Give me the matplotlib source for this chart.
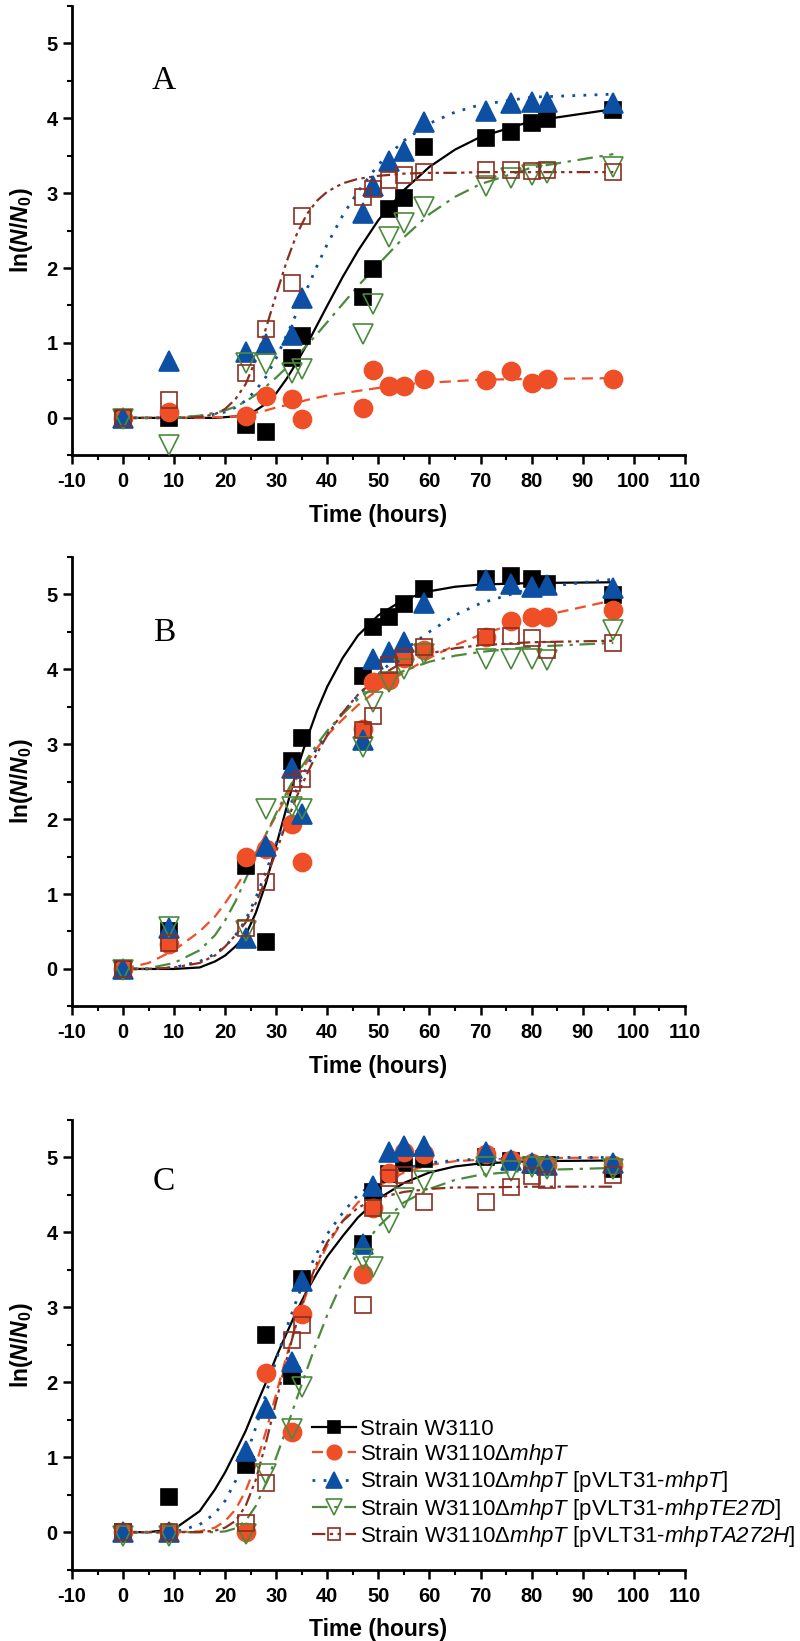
import matplotlib
matplotlib.use('Agg')
import matplotlib.pyplot as plt
from matplotlib.lines import Line2D
from matplotlib.ticker import MultipleLocator

plt.rcParams['font.family'] = ['Liberation Sans', 'DejaVu Sans']
plt.rcParams['axes.unicode_minus'] = False
plt.rcParams['mathtext.fontset'] = 'custom'
# digits inside \mathit fall back to 'rm', so keep 'rm' italic for the gene names
plt.rcParams['mathtext.rm'] = 'Liberation Sans:italic'
plt.rcParams['mathtext.it'] = 'Liberation Sans:italic'
plt.rcParams['mathtext.bf'] = 'Liberation Sans:bold'
plt.rcParams['mathtext.bfit'] = 'Liberation Sans:bold:italic'

# sampling times (hours)
time = [0, 9, 24, 28, 33, 35, 47, 49, 52, 55, 59, 71, 76, 80, 83, 96]

# panel A, measured ln(N/N0)
a_wt = [0, 0.0, -0.1, -0.19, 0.8, 1.09, 1.61, 1.99, 2.79, 2.94, 3.62, 3.73, 3.82, 3.93, 3.99, 4.11]
a_del = [0, 0.08, 0.02, 0.29, 0.25, -0.01, 0.13, 0.64, 0.42, 0.43, 0.52, 0.51, 0.63, 0.47, 0.52, 0.52]
a_comp = [0, 0.76, 0.88, 0.98, 1.11, 1.6, 2.74, 3.1, 3.43, 3.56, 3.95, 4.1, 4.2, 4.22, 4.22, 4.2]
a_e27d = [-0.02, -0.36, 0.73, 0.72, 0.6, 0.65, 1.12, 1.52, 2.41, 2.6, 2.82, 3.1, 3.2, 3.24, 3.27, 3.35]
a_a272h = [0, 0.24, 0.6, 1.19, 1.8, 2.7, 2.95, 3.05, 3.17, 3.24, 3.28, 3.31, 3.31, 3.3, 3.31, 3.28]

# panel B
b_wt = [0, 0.5, 1.38, 0.36, 2.77, 3.08, 3.91, 4.56, 4.7, 4.87, 5.07, 5.21, 5.24, 5.21, 5.14, 4.99]
b_del = [0, 0.33, 1.49, 1.6, 1.94, 1.43, 3.2, 3.83, 3.85, 4.15, 4.25, 4.43, 4.64, 4.7, 4.7, 4.79]
b_comp = [0, 0.54, 0.41, 1.64, 2.68, 2.07, 3.05, 4.13, 4.23, 4.36, 4.88, 5.19, 5.14, 5.1, 5.12, 5.08]
b_e27d = [-0.02, 0.56, 0.5, 2.14, 2.16, 2.14, 2.96, 3.56, 3.83, 4.0, 4.2, 4.14, 4.14, 4.14, 4.12, 4.52]
b_a272h = [0, 0.35, 0.54, 1.16, 2.48, 2.54, 3.19, 3.37, 4.05, 4.16, 4.3, 4.43, 4.44, 4.41, 4.25, 4.35]

# panel C
c_wt = [0, 0.47, 0.89, 2.63, 2.08, 3.38, 3.85, 4.54, 4.78, 4.93, 4.98, 5.0, 4.95, 4.9, 4.9, 4.85]
c_del = [0, 0, 0, 2.13, 1.33, 2.91, 3.44, 4.32, 4.79, 5.07, 5.04, 5.04, 4.97, 4.93, 4.9, 4.9]
c_comp = [0, 0, 1.08, 1.66, 2.27, 3.35, 3.85, 4.62, 5.07, 5.15, 5.15, 5.07, 4.96, 4.93, 4.9, 4.93]
c_e27d = [-0.05, -0.05, -0.03, 0.78, 1.38, 1.94, 3.65, 3.54, 4.12, 4.46, 4.68, 4.87, 4.82, 4.87, 4.85, 4.85]
c_a272h = [0, 0, 0.12, 0.65, 2.56, 2.77, 3.03, 4.32, 4.73, 4.76, 4.4, 4.41, 4.61, 4.75, 4.7, 4.77]

# fitted growth curves at these times
fit_time = [0, 5, 10, 15, 18, 20, 22, 24, 26, 28, 30, 32, 34, 36, 38, 40, 43, 46, 50, 55, 60, 65, 70, 80, 96]

fa_wt = [0, 0, 0, 0, 0, 0.01, 0.02, 0.05, 0.1, 0.19, 0.33, 0.52, 0.74, 0.98, 1.24, 1.5, 1.88, 2.23, 2.64, 3.04, 3.35, 3.58, 3.75, 3.96, 4.12]
fa_del = [0, 0, 0, 0, 0.01, 0.01, 0.02, 0.04, 0.07, 0.1, 0.14, 0.17, 0.2, 0.24, 0.27, 0.3, 0.33, 0.36, 0.4, 0.45, 0.47, 0.49, 0.51, 0.52, 0.53]
fa_comp = [0, 0, 0, 0.02, 0.05, 0.08, 0.14, 0.23, 0.37, 0.55, 0.8, 1.1, 1.4, 1.72, 2.03, 2.32, 2.7, 3.02, 3.38, 3.7, 3.93, 4.08, 4.18, 4.28, 4.32]
fa_e27d = [0, 0, 0, 0.03, 0.07, 0.1, 0.15, 0.22, 0.31, 0.42, 0.54, 0.67, 0.82, 0.97, 1.12, 1.28, 1.52, 1.76, 2.05, 2.41, 2.72, 2.95, 3.12, 3.34, 3.52]
fa_a272h = [0, 0, 0, 0.01, 0.05, 0.12, 0.25, 0.45, 0.78, 1.2, 1.65, 2.08, 2.45, 2.72, 2.9, 3.02, 3.13, 3.19, 3.23, 3.26, 3.27, 3.27, 3.28, 3.28, 3.28]

fb_wt = [0, 0, 0, 0.02, 0.1, 0.18, 0.3, 0.45, 0.75, 1.15, 1.65, 2.15, 2.65, 3.07, 3.45, 3.77, 4.15, 4.45, 4.72, 4.93, 5.04, 5.1, 5.13, 5.15, 5.16]
fb_del = [0, 0.08, 0.25, 0.5, 0.7, 0.88, 1.08, 1.3, 1.55, 1.8, 2.05, 2.3, 2.54, 2.76, 2.95, 3.12, 3.33, 3.52, 3.73, 3.96, 4.15, 4.32, 4.46, 4.68, 4.92]
fb_comp = [0, 0, 0.02, 0.1, 0.2, 0.3, 0.45, 0.65, 0.95, 1.3, 1.68, 2.05, 2.4, 2.7, 2.95, 3.15, 3.42, 3.65, 3.93, 4.25, 4.5, 4.72, 4.88, 5.08, 5.2]
fb_e27d = [0, 0.01, 0.08, 0.25, 0.45, 0.65, 0.9, 1.2, 1.5, 1.8, 2.08, 2.35, 2.6, 2.8, 3.0, 3.18, 3.4, 3.6, 3.8, 3.98, 4.1, 4.18, 4.23, 4.3, 4.35]
fb_a272h = [0, 0, 0.02, 0.08, 0.18, 0.3, 0.45, 0.62, 0.88, 1.2, 1.57, 1.95, 2.3, 2.6, 2.88, 3.12, 3.42, 3.66, 3.9, 4.1, 4.21, 4.28, 4.32, 4.36, 4.38]

fc_wt = [0, 0, 0.04, 0.28, 0.57, 0.8, 1.07, 1.35, 1.68, 2.0, 2.34, 2.65, 2.95, 3.22, 3.46, 3.68, 3.95, 4.2, 4.45, 4.66, 4.8, 4.88, 4.92, 4.95, 4.96]
fc_del = [0, 0, 0, 0.01, 0.06, 0.15, 0.3, 0.55, 0.9, 1.35, 1.85, 2.35, 2.8, 3.2, 3.55, 3.83, 4.15, 4.4, 4.62, 4.8, 4.9, 4.95, 4.97, 4.99, 5.0]
fc_comp = [0, 0, 0, 0.1, 0.25, 0.42, 0.68, 1.0, 1.4, 1.85, 2.3, 2.72, 3.1, 3.45, 3.73, 3.98, 4.26, 4.5, 4.7, 4.85, 4.93, 4.96, 4.98, 5.0, 5.0]
fc_e27d = [0, 0, 0, 0, 0, 0.01, 0.05, 0.15, 0.35, 0.65, 1.0, 1.38, 1.78, 2.17, 2.55, 2.9, 3.35, 3.72, 4.08, 4.4, 4.58, 4.7, 4.77, 4.83, 4.86]
fc_a272h = [0, 0, 0, 0, 0.02, 0.06, 0.15, 0.35, 0.7, 1.2, 1.75, 2.3, 2.8, 3.25, 3.6, 3.87, 4.15, 4.33, 4.46, 4.54, 4.58, 4.6, 4.6, 4.61, 4.61]

labels = ['Strain W3110',
          'Strain W3110Δ$\\mathit{mhpT}$',
          'Strain W3110Δ$\\mathit{mhpT}$ [pVLT31-$\\mathit{mhpT}$]',
          'Strain W3110Δ$\\mathit{mhpT}$ [pVLT31-$\\mathit{mhpTE27D}$]',
          'Strain W3110Δ$\\mathit{mhpT}$ [pVLT31-$\\mathit{mhpTA272H}$]']

# marker / line look for each strain
styles = [
    dict(color='black', ls='-', marker='s', ms=11.5, mfc='black', lw=1.6),
    dict(color='#ee4f26', ls=(0, (5, 3)), marker='o', ms=13, mfc='#ee4f26', lw=1.6),
    dict(color='#0c4fa3', ls=(0, (1, 3)), marker='^', ms=14, mfc='#0c4fa3', lw=2.0),
    dict(color='#4b8a3c', ls=(0, (7, 3, 1.5, 3)), marker='v', ms=14.5, mfc='none', lw=1.6),
    dict(color='#8c2e20', ls=(0, (6, 2, 1.5, 2, 1.5, 2)), marker='s', ms=11.5, mfc='none', lw=1.6),
]

panels = [
    ('A', [a_wt, a_del, a_comp, a_e27d, a_a272h], [fa_wt, fa_del, fa_comp, fa_e27d, fa_a272h], 4.5),
    ('B', [b_wt, b_del, b_comp, b_e27d, b_a272h], [fb_wt, fb_del, fb_comp, fb_e27d, fb_a272h], 4.48),
    ('C', [c_wt, c_del, c_comp, c_e27d, c_a272h], [fc_wt, fc_del, fc_comp, fc_e27d, fc_a272h], 4.68),
]

fig = plt.figure(figsize=(8, 16.41), dpi=100)
bottoms = [0.7225, 0.3867, 0.0435]

for (letter, pts, fits, ly), b in zip(panels, bottoms):
    ax = fig.add_axes([0.09, b, 0.766, 0.274])
    for fv, st in zip(fits, styles):
        ax.plot(fit_time, fv, color=st['color'], ls=st['ls'], lw=st['lw'], zorder=2)
    for yv, st in zip(pts, styles):
        ax.plot(time, yv, ls='none', marker=st['marker'], ms=st['ms'],
                mfc=st['mfc'], mec=st['color'], mew=1.2, zorder=3)
    ax.set_xlim(-10, 110)
    ax.set_ylim(-0.5, 5.5)
    ax.xaxis.set_major_locator(MultipleLocator(10))
    ax.xaxis.set_minor_locator(MultipleLocator(5))
    ax.yaxis.set_major_locator(MultipleLocator(1))
    ax.yaxis.set_minor_locator(MultipleLocator(0.5))
    for s in ['top', 'right']:
        ax.spines[s].set_visible(False)
    for s in ['left', 'bottom']:
        ax.spines[s].set_linewidth(2)
    ax.tick_params(which='major', direction='out', length=6.7, width=1.8)
    ax.tick_params(which='minor', direction='out', length=3.6, width=1.5)
    ax.tick_params(axis='x', which='major', pad=5.5)
    ax.tick_params(axis='y', which='major', pad=3.5)
    for t in ax.get_xticklabels() + ax.get_yticklabels():
        t.set_fontweight('bold')
        t.set_fontsize(14.5)
    ax.set_xlabel('Time (hours)', fontsize=16.5, fontweight='bold', labelpad=9)
    ax.set_ylabel('ln($\\mathbfit{N}$/$\\mathbfit{N}_{\\mathbf{0}}$)', fontsize=16.5,
                  fontweight='bold', labelpad=8)
    ax.text(8, ly, letter, fontsize=24, family='Liberation Serif', ha='center', va='center')

handles = [Line2D([], [], color=st['color'], ls=st['ls'], lw=st['lw'], marker=st['marker'],
                  ms=st['ms'] * 0.8, mfc=st['mfc'], mec=st['color'], mew=1.2) for st in styles]
fig.legend(handles, labels, loc='upper left', bbox_to_anchor=(312 / 800, 1 - 1419 / 1641),
           frameon=False, fontsize=16, borderpad=0, borderaxespad=0, handlelength=2.0,
           handletextpad=0.15, labelspacing=0.1)

fig.savefig('out.png', dpi=100)
